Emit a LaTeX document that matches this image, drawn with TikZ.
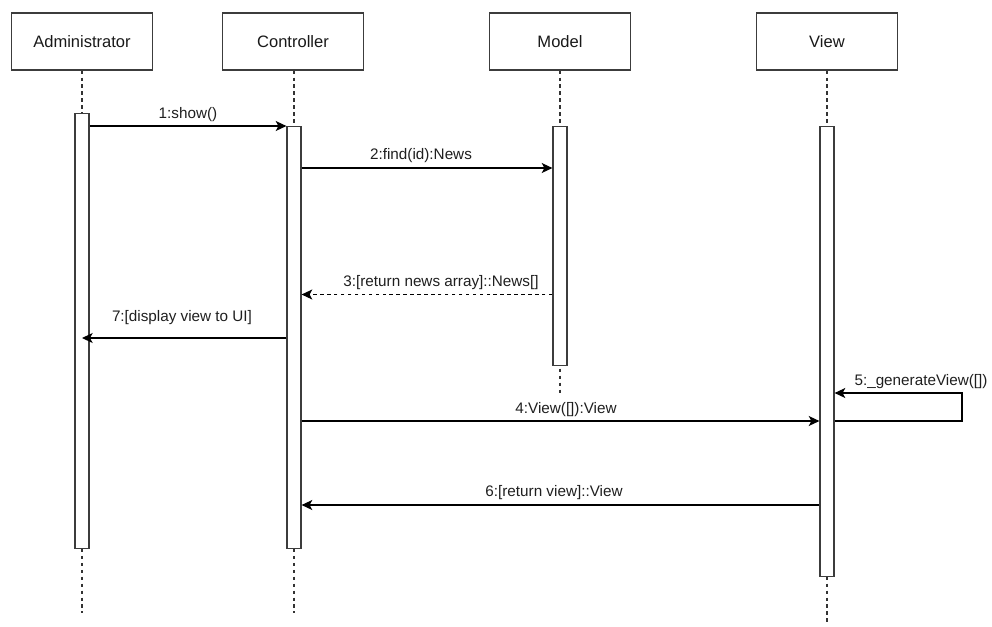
\documentclass[tikz,border=0pt]{standalone}
\usepackage{fontspec}
\setmainfont{Liberation Sans}
\usetikzlibrary{arrows.meta}
\definecolor{ln}{HTML}{333333}
\definecolor{bx}{HTML}{3C3C3C}
\begin{document}
\begin{tikzpicture}[x=0.75pt,y=-0.75pt,
  obj/.style={draw=bx, line width=0.9pt, fill=white, minimum width=106pt, minimum height=42.75pt, inner sep=0pt, font=\fontsize{12.4}{14}\selectfont, text=black!90},
  bar/.style={draw=bx, line width=0.9pt, fill=white, minimum width=10.5pt, inner sep=0pt, anchor=north},
  life/.style={draw=ln, line width=0.9pt, dash pattern=on 2.6pt off 2.6pt},
  msg/.style={draw=black, line width=0.9pt, -{Stealth[length=8pt,width=7.5pt,inset=2pt]}},
  ret/.style={msg, dash pattern=on 2.6pt off 2.6pt},
  lbl/.style={font=\fontsize{11.45}{13}\selectfont, text=black!88, inner sep=0pt}]
\useasboundingbox (0,0) rectangle (992,626);
% objects
\node[obj] (adm) at (82,41.5) {Administrator};
\node[obj] (ctl) at (293,41.5) {Controller};
\node[obj] (mdl) at (560,41.5) {Model};
\node[obj] (viw) at (827,41.5) {View};
% lifeline ends
\coordinate (admEnd) at (82,613);
\coordinate (ctlEnd) at (294,613);
\coordinate (mdlEnd) at (560,395);
\coordinate (viwEnd) at (827,622);
\draw[life] (adm.south) -- (admEnd);
\draw[life] (ctl.south -| ctlEnd) -- (ctlEnd);
\draw[life] (mdl.south) -- (mdlEnd);
\draw[life] (viw.south -| viwEnd) -- (viwEnd);
% activation bars
\node[bar, minimum height=326.25pt] (admbar) at (82,113) {};
\node[bar, minimum height=316.5pt] (ctlbar) at (294,126) {};
\node[bar, minimum height=179.25pt] (mdlbar) at (560,126) {};
\node[bar, minimum height=337.5pt] (viwbar) at (827,126) {};
% messages
\draw[msg] (admbar.east |- 0,126) -- (ctlbar.west |- 0,126);
\node[lbl] (l1) at (188,115) {1:show()};
\draw[msg] (ctlbar.east |- 0,168) -- (mdlbar.west |- 0,168);
\node[lbl] (l2) at (421,156) {2:find(id):News};
\draw[ret] (mdlbar.west |- 0,294.5) -- (ctlbar.east |- 0,294.5);
\node[lbl] (l3) at (441,283) {3:[return news array]::News[]};
\draw[msg] (ctlbar.west |- 0,338) -- (admbar.center |- 0,338);
\node[lbl] (l7) at (182,318) {7:[display view to UI]};
\coordinate (loopA) at (962,421);
\coordinate (loopB) at (962,393);
\draw[msg] (viwbar.east |- loopA) -- (loopA) -- (loopB) -- (viwbar.east |- loopB);
\node[lbl] (l5) at (921,382) {5:\_generateView([])};
\draw[msg] (ctlbar.east |- 0,421) -- (viwbar.west |- 0,421);
\node[lbl] (l4) at (566,410) {4:View([]):View};
\draw[msg] (viwbar.west |- 0,505) -- (ctlbar.east |- 0,505);
\node[lbl] (l6) at (554,493) {6:[return view]::View};
\end{tikzpicture}
\end{document}
